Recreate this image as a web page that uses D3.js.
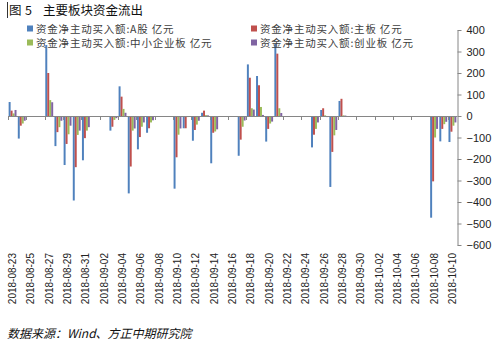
<!DOCTYPE html>
<html>
<head>
<meta charset="utf-8">
<script src="https://cdn.jsdelivr.net/npm/d3@7"></script>
<style>
  body { margin: 0; background: #fff; }
  svg { display: block; font-family: "Liberation Sans", Arial, sans-serif; }
</style>
</head>
<body>
<svg width="500" height="342"></svg>
<script>
// trading days shown in the chart
const dates = ['2018-08-23','2018-08-24','2018-08-27','2018-08-28','2018-08-29','2018-08-30','2018-08-31',
  '2018-09-03','2018-09-04','2018-09-05','2018-09-06','2018-09-07',
  '2018-09-10','2018-09-11','2018-09-12','2018-09-13','2018-09-14',
  '2018-09-17','2018-09-18','2018-09-19','2018-09-20','2018-09-21',
  '2018-09-25','2018-09-26','2018-09-27','2018-09-28',
  '2018-10-08','2018-10-09','2018-10-10'];

const aShare    = [65, -105, 330, -140, -228, -393, -206, -68, 138, -360, -155, -78, -338, -57, -115, 15, -220, -185, 240, 186, -119, 335, -146, 28, -330, 70, -473, -118, -121];
const mainBoard = [25, -45, 200, -75, -130, -238, -103, -50, 90, -235, -98, -57, -192, -57, -65, 25, -78, -110, 178, 143, -60, 290, -87, 36, -167, 80, -304, -60, -73];
const smeBoard  = [12, -35, 74, -52, -85, -88, -68, -18, 33, -68, -50, -30, -87, -5, -40, 4, -72, -50, 36, 42, -35, 36, -60, 3, -90, 3, -100, -38, -45];
const chiNext   = [28, -22, 64, -22, -45, -68, -52, -10, 15, -58, -30, -20, -58, -3, -22, 3, -62, -21, 30, 5, -26, 14, -30, -5, -65, 2, -60, -27, -30];

const seriesNames = ['资金净主动买入额:A股 亿元', '资金净主动买入额:主板 亿元', '资金净主动买入额:中小企业板 亿元', '资金净主动买入额:创业板 亿元'];
const colors = ['#4F81BD', '#C0504D', '#9BBB59', '#8064A2'];

const tickLabels = ['2018-08-23','2018-08-25','2018-08-27','2018-08-29','2018-08-31','2018-09-02','2018-09-04',
  '2018-09-06','2018-09-08','2018-09-10','2018-09-12','2018-09-14','2018-09-16','2018-09-18','2018-09-20',
  '2018-09-22','2018-09-24','2018-09-26','2018-09-28','2018-09-30','2018-10-02','2018-10-04','2018-10-06',
  '2018-10-08','2018-10-10'];
const yTicks = [400, 300, 200, 100, 0, -100, -200, -300, -400, -500, -600];

const svg = d3.select('svg'),
      plotLeft = 8, plotRight = 457, plotTop = 30, plotBottom = 245;

const fmt = d3.timeFormat('%Y-%m-%d'),
      parse = d3.timeParse('%Y-%m-%d');
// date axis: every calendar day gets a slot, weekends/holidays stay empty
const allDays = d3.timeDay.range(parse(dates[0]), d3.timeDay.offset(parse(dates[dates.length - 1]), 1)).map(fmt);

const x = d3.scaleBand().domain(allDays).range([plotLeft, plotRight]).paddingInner(0.14).paddingOuter(0.07);
const xs = d3.scaleBand().domain(d3.range(4)).range([0, x.bandwidth()]);
const y = d3.scaleLinear().domain([-600, 400]).range([plotBottom, plotTop]);

const series = [aShare, mainBoard, smeBoard, chiNext];
const step = (plotRight - plotLeft) / allDays.length;

// bars
svg.append('g')
  .selectAll('g')
  .data(dates)
  .enter()
  .append('g')
  .attr('transform', d => `translate(${x(d)},0)`)
  .selectAll('rect')
  .data((d, i) => series.map((s, k) => ({ k: k, v: s[i] })))
  .enter()
  .append('rect')
  .attr('x', d => xs(d.k))
  .attr('width', xs.bandwidth())
  .attr('y', d => y(Math.max(0, d.v)))
  .attr('height', d => Math.abs(y(d.v) - y(0)))
  .attr('fill', d => colors[d.k]);

// zero line with ticks every two days
const xAxis = svg.append('g').attr('stroke', '#868686').attr('stroke-width', 1);
xAxis.append('line')
  .attr('x1', plotLeft).attr('x2', plotRight)
  .attr('y1', y(0) + 0.5).attr('y2', y(0) + 0.5);
xAxis.selectAll('.tk')
  .data(tickLabels)
  .enter()
  .append('line')
  .attr('x1', d => Math.round(plotLeft + allDays.indexOf(d) * step) + 0.5)
  .attr('x2', d => Math.round(plotLeft + allDays.indexOf(d) * step) + 0.5)
  .attr('y1', y(0)).attr('y2', y(0) + 4);

// rotated date labels
svg.append('g')
  .selectAll('text')
  .data(tickLabels)
  .enter()
  .append('text')
  .attr('transform', d => `translate(${x(d) + x.bandwidth() / 2 + 3.5},253) rotate(-90)`)
  .attr('text-anchor', 'end')
  .attr('font-size', 10)
  .attr('fill', '#222')
  .text(d => d);

// right value axis
const yAxis = svg.append('g')
  .attr('transform', `translate(${plotRight + 0.5},0)`)
  .call(d3.axisRight(y).tickValues(yTicks).tickSize(4).tickPadding(5).tickSizeOuter(0));
yAxis.select('.domain').attr('stroke', '#868686');
yAxis.selectAll('.tick line').attr('stroke', '#868686');
yAxis.selectAll('text')
  .attr('font-size', 11)
  .attr('fill', '#222')
  .attr('font-family', '"Liberation Sans", Arial, sans-serif');

// legend
const legend = svg.append('g')
  .selectAll('g')
  .data(seriesNames)
  .enter()
  .append('g')
  .attr('transform', (d, i) => `translate(${i % 2 ? 251 : 27},${i < 2 ? 29 : 43})`);
legend.append('rect')
  .attr('x', 0).attr('y', -3.5)
  .attr('width', 6).attr('height', 6)
  .attr('fill', (d, i) => colors[i]);
legend.append('text')
  .attr('x', 9).attr('y', 4)
  .attr('font-size', 10.5)
  .attr('letter-spacing', 0.8)
  .attr('font-family', '"Noto Sans CJK SC", sans-serif')
  .attr('fill', '#404040')
  .text(d => d);

// title
svg.append('line')
  .attr('x1', 7.5).attr('x2', 7.5).attr('y1', 2).attr('y2', 18)
  .attr('stroke', '#333');
const title = svg.append('g')
  .attr('font-size', 12.5)
  .attr('font-family', '"Noto Sans CJK SC", sans-serif')
  .attr('fill', '#111');
title.append('text').attr('x', 9).attr('y', 15).text('图');
title.append('text').attr('x', 25).attr('y', 15).text('5');
title.append('text').attr('x', 43).attr('y', 15).text('主要板块资金流出');

// source note
svg.append('text')
  .attr('x', 7).attr('y', 338)
  .attr('font-size', 12)
  .attr('font-style', 'italic')
  .attr('font-family', '"Noto Sans CJK SC", sans-serif')
  .attr('fill', '#111')
  .text('数据来源：Wind、方正中期研究院');
</script>
</body>
</html>
